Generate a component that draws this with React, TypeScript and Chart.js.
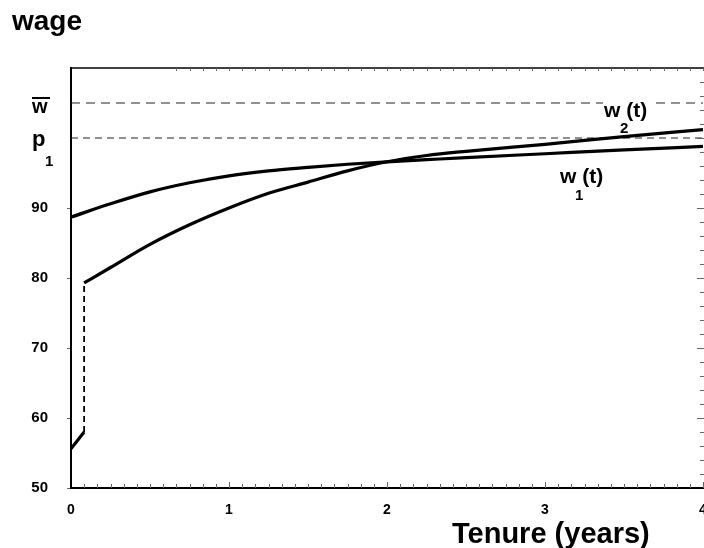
import React, { useEffect, useRef } from "react";
import { Chart, registerables } from "chart.js";
Chart.register(...registerables);

// Tenure (years) and wages
const tenure1 = [0, 0.25, 0.5, 0.75, 1, 1.25, 1.5, 1.75, 2, 2.25, 2.5, 3, 3.5, 4];
const wage1 = [88.7, 90.6, 92.3, 93.6, 94.6, 95.3, 95.8, 96.25, 96.6, 96.9, 97.2, 97.75, 98.3, 98.8];
const tenure2 = [0.083, 0.25, 0.5, 0.75, 1, 1.25, 1.5, 1.75, 2, 2.25, 2.5, 3, 3.5, 4];
const wage2 = [79.3, 81.5, 84.8, 87.6, 90.0, 92.1, 93.7, 95.3, 96.6, 97.5, 98.1, 99.1, 100.2, 101.2];
const entryTenure = [0, 0.083];
const entryWage = [55.6, 58.0];
const jumpTenure = [0.083, 0.083];
const jumpWage = [58.0, 79.3];
const wBar = 105;
const p1 = 100;
const xRange = [0, 4];
const yRange = [50, 110];
const yLabelMax = 90;

const FONT = "'Liberation Sans', Arial, sans-serif";

const pts = (xs: number[], ys: number[]) => xs.map((x, i) => ({ x, y: ys[i] }));

const decor = {
  id: "decor",
  afterDraw(chart: any) {
    const { ctx, chartArea: a, scales } = chart;
    const xs = scales.x;
    const ys = scales.y;
    ctx.save();
    // top border
    ctx.strokeStyle = "#000";
    ctx.lineWidth = 1.5;
    ctx.beginPath();
    ctx.moveTo(a.left, a.top);
    ctx.lineTo(a.right + 2, a.top);
    ctx.stroke();
    // minor ticks
    ctx.strokeStyle = "#666";
    ctx.lineWidth = 1;
    for (let m = 1; m <= 48; m++) {
      const px = Math.round(xs.getPixelForValue(m / 12)) + 0.5;
      const len = m % 12 === 0 ? 6 : 4;
      ctx.beginPath();
      ctx.moveTo(px, a.bottom);
      ctx.lineTo(px, a.bottom - len);
      ctx.stroke();
      if (m >= 8) {
        ctx.beginPath();
        ctx.moveTo(px, a.top);
        ctx.lineTo(px, a.top + 3);
        ctx.stroke();
      }
    }
    for (let v = 52; v < 110; v += 2) {
      const py = Math.round(ys.getPixelForValue(v)) + 0.5;
      const len = v % 10 === 0 ? 7 : 4;
      ctx.beginPath();
      ctx.moveTo(a.right + 1, py);
      ctx.lineTo(a.right + 1 - len, py);
      ctx.stroke();
    }
    ctx.restore();

    ctx.save();
    ctx.fillStyle = "#000";
    ctx.textBaseline = "alphabetic";
    ctx.textAlign = "left";
    ctx.font = `bold 28px ${FONT}`;
    ctx.fillText("wage", 12, 30);
    ctx.font = `bold 29px ${FONT}`;
    ctx.fillText("Tenure (years)", 452, 543);
    // w bar
    ctx.font = `bold 20px ${FONT}`;
    ctx.fillText("w", 32, 113);
    ctx.fillRect(32, 97, 18, 2);
    // p1
    ctx.font = `bold 22px ${FONT}`;
    ctx.fillText("p", 32, 146);
    ctx.font = `bold 15px ${FONT}`;
    ctx.fillText("1", 45, 166);
    // w2(t)
    ctx.fillStyle = "#fff";
    ctx.fillRect(603, 96, 48, 24);
    ctx.fillStyle = "#000";
    ctx.font = `bold 21px ${FONT}`;
    ctx.fillText("w (t)", 604, 117);
    ctx.font = `bold 15px ${FONT}`;
    ctx.fillText("2", 620, 133);
    // w1(t)
    ctx.font = `bold 21px ${FONT}`;
    ctx.fillText("w (t)", 560, 183);
    ctx.font = `bold 15px ${FONT}`;
    ctx.fillText("1", 575, 200);
    ctx.restore();
  },
};

export default function App() {
  const ref = useRef<HTMLCanvasElement>(null);
  useEffect(() => {
    if (!ref.current) return;
    const curve = { borderColor: "#000", borderWidth: 3.2, pointRadius: 0, fill: false };
    const chart = new Chart(ref.current, {
      type: "line",
      data: {
        datasets: [
          { ...curve, label: "w1", data: pts(tenure1, wage1), cubicInterpolationMode: "monotone" },
          { ...curve, label: "w2", data: pts(tenure2, wage2), cubicInterpolationMode: "monotone" },
          { ...curve, label: "entry", data: pts(entryTenure, entryWage) },
          { ...curve, label: "jump", data: pts(jumpTenure, jumpWage), borderWidth: 1.8, borderDash: [6, 4] },
          { ...curve, label: "wbar", data: pts(xRange, [wBar, wBar]), borderWidth: 1.2, borderColor: "#222", borderDash: [9, 6] },
          { ...curve, label: "p1", data: pts(xRange, [p1, p1]), borderWidth: 1.2, borderColor: "#222", borderDash: [7, 5] },
        ] as any,
      },
      options: {
        animation: false,
        responsive: false,
        maintainAspectRatio: false,
        parsing: true,
        layout: { padding: { left: 0, top: 68, right: 1, bottom: 0 } },
        plugins: { legend: { display: false }, tooltip: { enabled: false }, title: { display: false } },
        scales: {
          x: {
            type: "linear",
            min: xRange[0],
            max: xRange[1],
            grid: { drawOnChartArea: false, drawTicks: false },
            border: { display: true, color: "#000", width: 2 },
            ticks: { stepSize: 1, padding: 14, color: "#000", font: { family: FONT, size: 14, weight: "bold" } },
            afterFit: (s: any) => {
              s.height = 60;
              s.paddingLeft = 0;
              s.paddingRight = 0;
            },
          },
          y: {
            type: "linear",
            min: yRange[0],
            max: yRange[1],
            grid: {
              drawOnChartArea: false,
              drawTicks: true,
              tickLength: 4,
              color: (c: any) => (c.tick && c.tick.value <= yLabelMax ? "#666" : "rgba(0,0,0,0)"),
            },
            border: { display: true, color: "#000", width: 2 },
            ticks: {
              stepSize: 10,
              padding: 19,
              color: "#000",
              font: { family: FONT, size: 15, weight: "bold" },
              callback: (v: any) => (Number(v) <= yLabelMax ? String(v) : ""),
            },
            afterFit: (s: any) => {
              s.width = 71;
              s.paddingTop = 0;
              s.paddingBottom = 0;
            },
          },
        },
      } as any,
      plugins: [decor],
    });
    return () => chart.destroy();
  }, []);
  return (
    <div style={{ position: "fixed", left: 0, top: 0, width: 704, height: 548, background: "#fff" }}>
      <canvas ref={ref} width={704} height={548} style={{ display: "block", width: 704, height: 548 }} />
    </div>
  );
}
